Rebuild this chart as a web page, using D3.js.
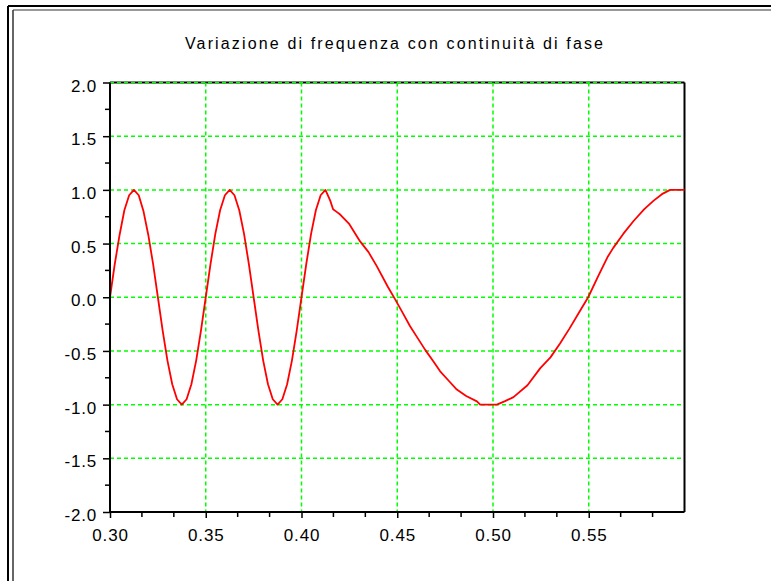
<!DOCTYPE html>
<html>
<head>
<meta charset="utf-8">
<script src="https://cdn.jsdelivr.net/npm/d3@7"></script>
<style>
  html, body { margin: 0; padding: 0; background: #fff; }
  svg { display: block; }
</style>
</head>
<body>
<svg id="chart" width="771" height="581"></svg>
<script>
const title = "Variazione di frequenza con continuità di fase";
const xTickValues = [0.30, 0.35, 0.40, 0.45, 0.50, 0.55];
const xTickLabels = ["0.30", "0.35", "0.40", "0.45", "0.50", "0.55"];
const yTickValues = [-2.0, -1.5, -1.0, -0.5, 0.0, 0.5, 1.0, 1.5, 2.0];
const yTickLabels = ["-2.0", "-1.5", "-1.0", "-0.5", "0.0", "0.5", "1.0", "1.5", "2.0"];
const xDomain = [0.30, 0.60];
const yDomain = [-2.0, 2.0];

const time = [
  0.3000,0.3025,0.3050,0.3075,0.3100,0.3125,0.3150,0.3175,0.3200,0.3225,
  0.3250,0.3275,0.3300,0.3325,0.3350,0.3375,0.3400,0.3425,0.3450,0.3475,
  0.3500,0.3525,0.3550,0.3575,0.3600,0.3625,0.3650,0.3675,0.3700,0.3725,
  0.3750,0.3775,0.3800,0.3825,0.3850,0.3875,0.3900,0.3925,0.3950,0.3975,
  0.4000,0.4025,0.4050,0.4075,0.4100,0.4125,
  0.4150,0.4165,0.4180,0.4202,0.4250,0.4306,0.4350,0.4393,0.4450,0.4489,
  0.4530,0.4567,0.4610,0.4646,0.4690,0.4724,0.4770,0.4811,0.4860,0.4916,
  0.4933,0.5020,0.5060,0.5107,0.5180,0.5247,0.5300,0.5350,0.5400,0.5450,
  0.5497,0.5550,0.5600,0.5628,0.5680,0.5734,0.5790,0.5839,0.5882,0.5925,0.6000
];
const signal = [
  0.00,0.31,0.58,0.81,0.95,1.00,0.95,0.80,0.58,0.31,
  0.00,-0.31,-0.59,-0.81,-0.95,-1.00,-0.95,-0.81,-0.59,-0.31,
  0.00,0.31,0.59,0.81,0.95,1.00,0.95,0.81,0.59,0.31,
  0.00,-0.31,-0.59,-0.81,-0.95,-1.00,-0.95,-0.81,-0.59,-0.31,
  0.00,0.31,0.59,0.81,0.95,1.00,
  0.90,0.82,0.80,0.77,0.68,0.52,0.42,0.29,0.10,-0.02,
  -0.15,-0.27,-0.39,-0.49,-0.60,-0.69,-0.78,-0.86,-0.92,-0.97,
  -1.00,-1.00,-0.97,-0.93,-0.82,-0.66,-0.56,-0.43,-0.29,-0.14,
  0.00,0.20,0.38,0.46,0.59,0.71,0.82,0.90,0.96,1.00,1.00
];

const svg = d3.select("#chart");
const pLeft = 110, pRight = 684.5, pTop = 82.5, pBottom = 512;

const x = d3.scaleLinear().domain(xDomain).range([pLeft, pRight]);
const y = d3.scaleLinear().domain(yDomain).range([pBottom, pTop]);

// outer window frame
svg.append("line").attr("x1", 8).attr("y1", 6).attr("x2", 771).attr("y2", 6).attr("stroke", "#000").attr("stroke-width", 2);
svg.append("line").attr("x1", 8).attr("y1", 6).attr("x2", 8).attr("y2", 581).attr("stroke", "#000").attr("stroke-width", 2);
svg.append("line").attr("x1", 13).attr("y1", 10).attr("x2", 771).attr("y2", 10).attr("stroke", "#777").attr("stroke-width", 1.5);
svg.append("line").attr("x1", 13).attr("y1", 10).attr("x2", 13).attr("y2", 581).attr("stroke", "#333").attr("stroke-width", 1.5);

// title
svg.append("text")
  .attr("x", 394).attr("y", 49)
  .attr("text-anchor", "middle")
  .attr("font-family", "Liberation Sans, Arial, sans-serif")
  .attr("font-size", 16)
  .attr("textLength", 418)
  .attr("lengthAdjust", "spacing")
  .attr("fill", "#000")
  .text(title);

// plot box (right and top)
svg.append("line").attr("x1", pLeft).attr("y1", pTop).attr("x2", pRight).attr("y2", pTop).attr("stroke", "#000").attr("stroke-width", 2);
svg.append("line").attr("x1", pRight).attr("y1", pTop).attr("x2", pRight).attr("y2", pBottom).attr("stroke", "#000").attr("stroke-width", 2);

// grid
const grid = svg.append("g").attr("stroke", "#00ff00").attr("stroke-width", 1.5).attr("stroke-dasharray", "4,3").attr("fill", "none");
grid.selectAll("line.v").data(xTickValues.slice(1)).enter().append("line")
  .attr("x1", d => x(d)).attr("x2", d => x(d)).attr("y1", pTop).attr("y2", pBottom);
grid.selectAll("line.h").data(yTickValues.slice(1)).enter().append("line")
  .attr("x1", pLeft).attr("x2", pRight - 2).attr("y1", d => y(d)).attr("y2", d => y(d));

// curve
const line = d3.line().x((d, i) => x(time[i])).y(d => y(d)).curve(d3.curveLinear);
svg.append("path").datum(signal).attr("d", line)
  .attr("fill", "none").attr("stroke", "#ff0000").attr("stroke-width", 1.8).attr("stroke-linejoin", "round");

// minor ticks
const xMinor = d3.range(0, 18).map(i => xDomain[0] + i * 0.05 / 3).filter((d, i) => i % 3 !== 0);
const yMinor = d3.range(0, 8).map(i => yDomain[0] + 0.25 + i * 0.5);

const axisFont = "Liberation Sans, Arial, sans-serif";

// x axis
const xAxis = d3.axisBottom(x).tickValues(xTickValues).tickFormat((d, i) => xTickLabels[i]).tickSize(6).tickPadding(11);
const gx = svg.append("g").attr("transform", `translate(0,${pBottom})`).call(xAxis);
gx.select(".domain").attr("stroke-width", 2).attr("d", `M${pLeft},0H${pRight}`);
gx.selectAll(".tick line").attr("stroke-width", 1.5);
gx.selectAll(".tick text").attr("font-family", axisFont).attr("font-size", 17).attr("letter-spacing", 0.8).attr("fill", "#000");
gx.selectAll("line.minor").data(xMinor).enter().append("line").attr("class", "minor")
  .attr("x1", d => x(d)).attr("x2", d => x(d)).attr("y1", 0).attr("y2", 5).attr("stroke", "#000").attr("stroke-width", 1.5);

// y axis
const yAxis = d3.axisLeft(y).tickValues(yTickValues).tickFormat((d, i) => yTickLabels[i]).tickSize(7).tickPadding(6);
const gy = svg.append("g").attr("transform", `translate(${pLeft},0)`).call(yAxis);
gy.select(".domain").attr("stroke-width", 2).attr("d", `M0,${pTop}V${pBottom}`);
gy.selectAll(".tick line").attr("stroke-width", 1.5);
gy.selectAll(".tick text").attr("font-family", axisFont).attr("font-size", 17).attr("letter-spacing", 0.8).attr("fill", "#000").attr("dy", "0.5em");
gy.selectAll("line.minor").data(yMinor).enter().append("line").attr("class", "minor")
  .attr("x1", 0).attr("x2", -5).attr("y1", d => y(d)).attr("y2", d => y(d)).attr("stroke", "#000").attr("stroke-width", 1.5);
</script>
</body>
</html>
